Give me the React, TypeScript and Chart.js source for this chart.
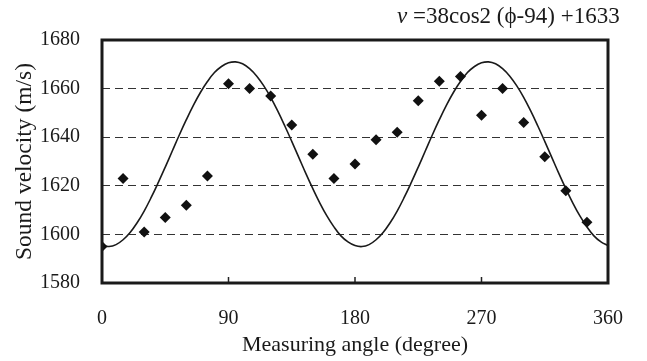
import React, { useEffect, useRef } from "react";
import { Chart, registerables } from "chart.js";

Chart.register(...registerables);

// Measured data points (angle in degrees, sound velocity in m/s)
const measuredAngles = [0, 15, 30, 45, 60, 75, 90, 105, 120, 135, 150, 165, 180, 195, 210, 225, 240, 255, 270, 285, 300, 315, 330, 345];
const measuredVelocity = [1595, 1623, 1601, 1607, 1612, 1624, 1662, 1660, 1657, 1645, 1633, 1623, 1629, 1639, 1642, 1655, 1663, 1665, 1649, 1660, 1646, 1632, 1618, 1605];

// Fitted curve read at every 5 degrees
const curveAngles = [0, 5, 10, 15, 20, 25, 30, 35, 40, 45, 50, 55, 60, 65, 70, 75, 80, 85, 90, 95, 100, 105, 110, 115, 120, 125, 130, 135, 140, 145, 150, 155, 160, 165, 170, 175, 180, 185, 190, 195, 200, 205, 210, 215, 220, 225, 230, 235, 240, 245, 250, 255, 260, 265, 270, 275, 280, 285, 290, 295, 300, 305, 310, 315, 320, 325, 330, 335, 340, 345, 350, 355, 360];
const curveVelocity = [
  1595.4, 1595.0, 1595.8, 1597.8, 1600.8, 1604.8, 1609.6, 1615.2, 1621.3, 1627.7,
  1634.3, 1640.9, 1647.2, 1653.1, 1658.4, 1662.9, 1666.6, 1669.1, 1670.6, 1671.0,
  1670.2, 1668.2, 1665.2, 1661.2, 1656.4, 1650.8, 1644.7, 1638.3, 1631.7, 1625.1,
  1618.8, 1612.9, 1607.6, 1603.1, 1599.4, 1596.9, 1595.4, 1595.0, 1595.8, 1597.8,
  1600.8, 1604.8, 1609.6, 1615.2, 1621.3, 1627.7, 1634.3, 1640.9, 1647.2, 1653.1,
  1658.4, 1662.9, 1666.6, 1669.1, 1670.6, 1671.0, 1670.2, 1668.2, 1665.2, 1661.2,
  1656.4, 1650.8, 1644.7, 1638.3, 1631.7, 1625.1, 1618.8, 1612.9, 1607.6, 1603.1,
  1599.4, 1596.9, 1595.4,
];

const xTicks = [0, 90, 180, 270, 360];
const yTicks = [1580, 1600, 1620, 1640, 1660, 1680];

const xTitle = "Measuring angle (degree)";
const yTitle = "Sound velocity (m/s)";
const formulaVar = "v";
const formulaRest = " =38cos2 (\u03D5-94) +1633";

const FONT = "'Liberation Serif', 'Times New Roman', serif";

const framePlugin = {
  id: "frame",
  afterDatasetsDraw(chart: any) {
    const { ctx, chartArea } = chart;
    const xs = chart.scales.x;
    ctx.save();
    // inner tick marks on x axis
    ctx.strokeStyle = "#222";
    ctx.lineWidth = 1.5;
    xTicks.slice(1, -1).forEach((v) => {
      const px = xs.getPixelForValue(v);
      ctx.beginPath();
      ctx.moveTo(px, chartArea.bottom);
      ctx.lineTo(px, chartArea.bottom - 6);
      ctx.stroke();
    });
    // frame
    ctx.lineWidth = 3;
    ctx.strokeStyle = "#1a1a1a";
    ctx.strokeRect(chartArea.left, chartArea.top, chartArea.right - chartArea.left, chartArea.bottom - chartArea.top);
    // formula
    ctx.fillStyle = "#1a1a1a";
    ctx.textBaseline = "alphabetic";
    ctx.textAlign = "left";
    ctx.font = `italic 23px ${FONT}`;
    const x0 = 397;
    const y0 = 23;
    ctx.fillText(formulaVar, x0, y0);
    const w = ctx.measureText(formulaVar).width;
    ctx.font = `23px ${FONT}`;
    ctx.fillText(formulaRest, x0 + w, y0);
    ctx.restore();
  },
};

export default function App() {
  const ref = useRef<HTMLCanvasElement | null>(null);
  useEffect(() => {
    if (!ref.current) return;
    const chart = new Chart(ref.current, {
      type: "scatter",
      data: {
        datasets: [
          {
            label: "measured",
            data: measuredAngles.map((a, i) => ({ x: a, y: measuredVelocity[i] })),
            pointStyle: "rectRot",
            pointRadius: 5.5,
            pointHoverRadius: 5.5,
            backgroundColor: "#111",
            borderColor: "#111",
            borderWidth: 0,
            showLine: false,
          },
          {
            label: "fit",
            data: curveAngles.map((a, i) => ({ x: a, y: curveVelocity[i] })),
            showLine: true,
            pointRadius: 0,
            borderColor: "#1a1a1a",
            borderWidth: 1.6,
            tension: 0.4,
            fill: false,
          },
        ],
      },
      options: {
        animation: false,
        responsive: false,
        maintainAspectRatio: false,
        layout: { padding: { left: 0, right: 27, top: 40, bottom: 0 } },
        plugins: {
          legend: { display: false },
          tooltip: { enabled: false },
          title: { display: false },
        },
        scales: {
          x: {
            type: "linear",
            min: 0,
            max: 360,
            afterBuildTicks: (s: any) => {
              s.ticks = xTicks.map((v) => ({ value: v }));
            },
            afterFit: (s: any) => {
              s.height = 78;
            },
            grid: { display: false, drawTicks: false },
            border: { display: false },
            ticks: {
              color: "#1a1a1a",
              padding: 24,
              font: { family: FONT, size: 20 },
              maxRotation: 0,
              callback: (v: any) => String(v),
            },
            title: {
              display: true,
              text: xTitle,
              color: "#1a1a1a",
              font: { family: FONT, size: 22 },
              padding: { top: 0, bottom: 3 },
            },
          },
          y: {
            type: "linear",
            min: 1580,
            max: 1680,
            afterBuildTicks: (s: any) => {
              s.ticks = yTicks.map((v) => ({ value: v }));
            },
            afterFit: (s: any) => {
              s.width = 102;
            },
            grid: {
              drawTicks: false,
              color: (c: any) => (c.tick && (c.tick.value === 1580 || c.tick.value === 1680) ? "rgba(0,0,0,0)" : "#333"),
              lineWidth: 1,
            },
            border: { display: false, dash: [8, 5] },
            ticks: {
              color: "#1a1a1a",
              padding: 22,
              font: { family: FONT, size: 20 },
              callback: (v: any) => String(v),
            },
            title: {
              display: true,
              text: yTitle,
              color: "#1a1a1a",
              font: { family: FONT, size: 23.5 },
              padding: { top: 11, bottom: 0 },
            },
          },
        },
      },
      plugins: [framePlugin],
    });
    return () => chart.destroy();
  }, []);
  return (
    <div style={{ position: "fixed", left: 0, top: 0, width: 647, height: 361, background: "#fff" }}>
      <canvas ref={ref} width={647} height={361} style={{ width: 647, height: 361 }} />
    </div>
  );
}
